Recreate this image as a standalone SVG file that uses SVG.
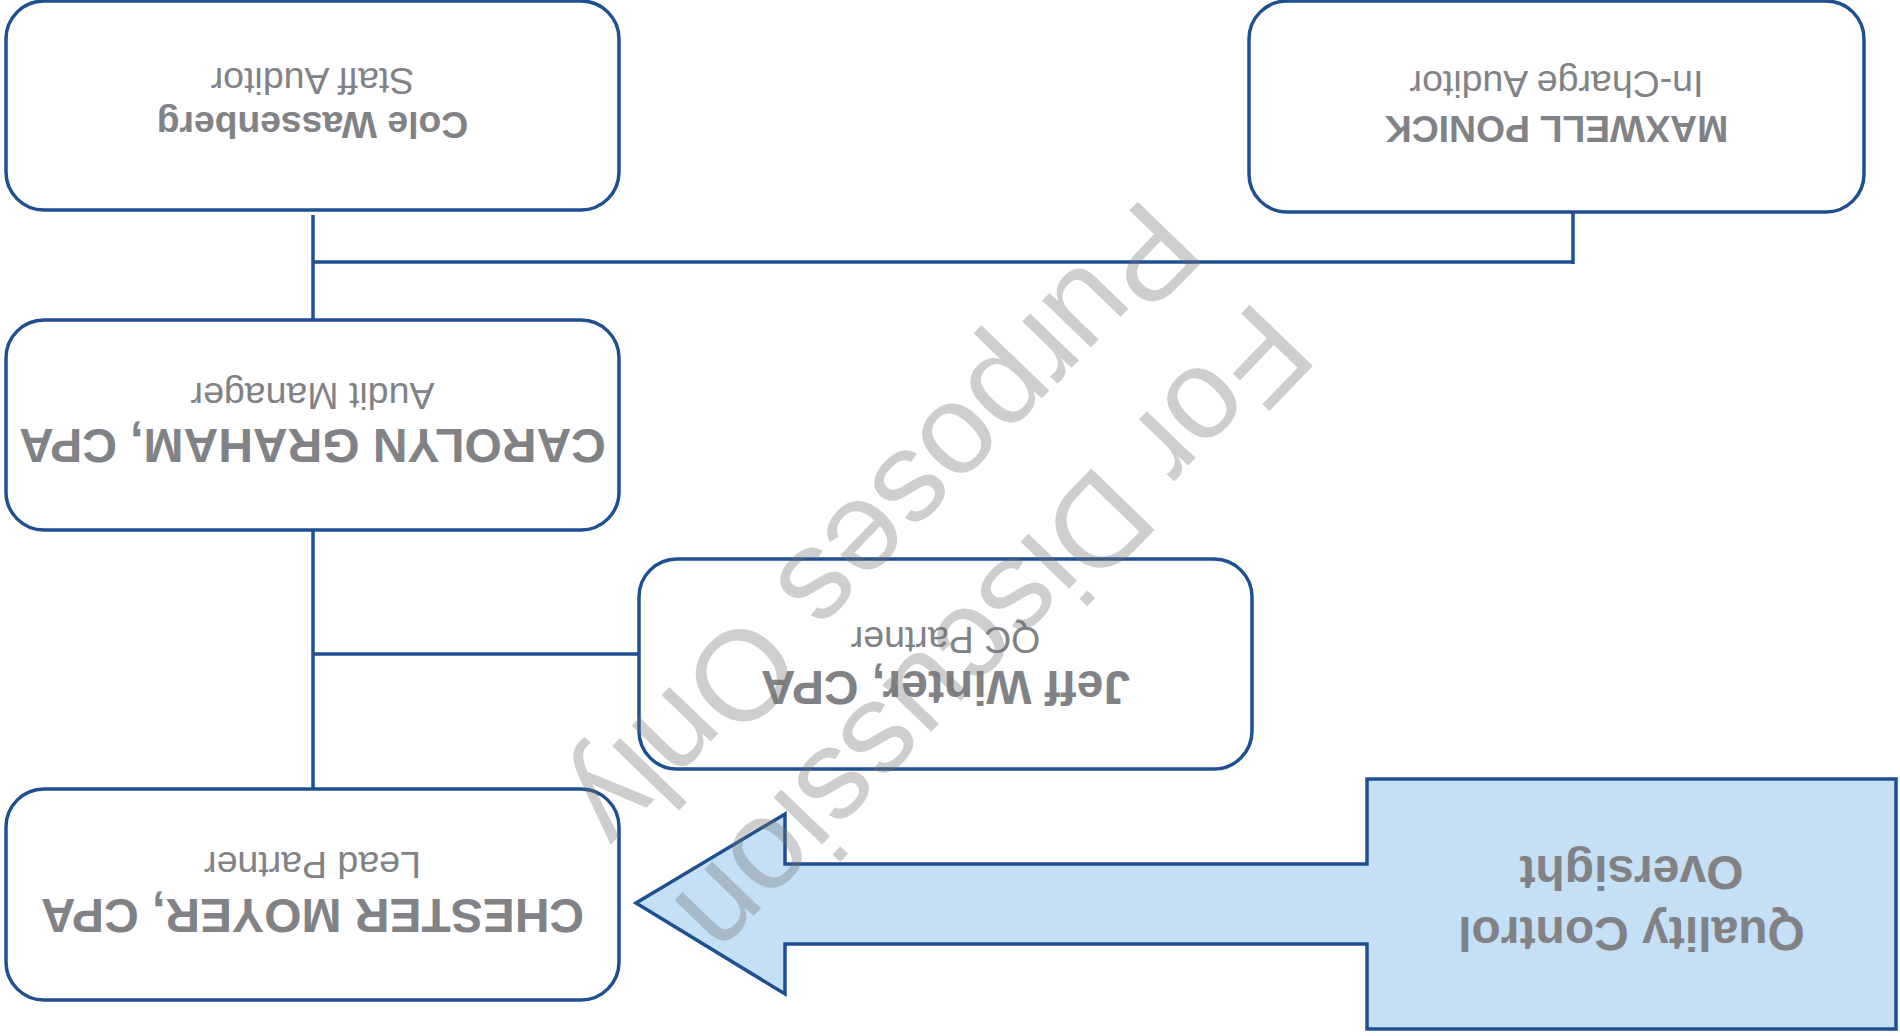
<svg xmlns="http://www.w3.org/2000/svg" width="1900" height="1036" viewBox="0 0 1900 1036">
<style>
.box{fill:#ffffff;stroke:#1e4f90;stroke-width:3.5}
.conn{stroke:#1e4f90;stroke-width:3.5;fill:none}
.name{font-family:"Liberation Sans",Arial,sans-serif;font-weight:bold;fill:#818285;text-anchor:middle}
.title{font-family:"Liberation Sans",Arial,sans-serif;fill:#818285;text-anchor:middle;font-size:37.5px}
.big{font-size:48px}
.small{font-size:37.3px}
.arrow{fill:#c5e0f4;stroke:#1e4f90;stroke-width:3.5;stroke-linejoin:miter}
.wm{font-family:"Liberation Sans",Arial,sans-serif;font-size:128px;fill:#747474;fill-opacity:0.35;text-anchor:middle}
</style>
<rect width="1900" height="1036" fill="#ffffff"/>
<g transform="rotate(180 950 518)">
  <g id="connectors">
    <line class="conn" x1="1587" y1="716" x2="1587" y2="821"/>
    <line class="conn" x1="327" y1="774" x2="1587" y2="774"/>
    <line class="conn" x1="327" y1="772" x2="327" y2="824"/>
    <line class="conn" x1="1587" y1="247" x2="1587" y2="506"/>
    <line class="conn" x1="1261" y1="382" x2="1587" y2="382"/>
  </g>
  <g id="node-chester">
    <rect class="box" x="1281" y="36" width="613" height="211" rx="38"/>
    <text class="name big" x="1587.5" y="137">CHESTER MOYER, CPA</text>
    <text class="title" x="1587.5" y="184">Lead Partner</text>
  </g>
  <g id="node-jeff">
    <rect class="box" x="648" y="267" width="613" height="210" rx="38"/>
    <text class="name big" x="954.5" y="365">Jeff Winter, CPA</text>
    <text class="title" x="954.5" y="409">QC Partner</text>
  </g>
  <g id="node-carolyn">
    <rect class="box" x="1281" y="506" width="613" height="210" rx="38"/>
    <text class="name big" x="1587.5" y="607">CAROLYN GRAHAM, CPA</text>
    <text class="title" x="1587.5" y="653">Audit Manager</text>
  </g>
  <g id="node-cole">
    <rect class="box" x="1281" y="826" width="613" height="209" rx="38"/>
    <text class="name small" x="1587.5" y="924">Cole Wassenberg</text>
    <text class="title" x="1587.5" y="968">Staff Auditor</text>
  </g>
  <g id="node-maxwell">
    <rect class="box" x="36" y="824" width="615" height="211" rx="38"/>
    <text class="name small" x="343.5" y="920">MAXWELL PONICK</text>
    <text class="title" x="343.5" y="965">In-Charge Auditor</text>
  </g>
  <g id="qc-arrow">
    <polygon class="arrow" points="1264,133 1115,42 1115,92 533,92 533,7 4,7 4,257 533,257 533,172 1115,172 1115,222"/>
    <text class="name big" x="268.5" y="119">Quality Control</text>
    <text class="name big" x="268.5" y="180">Oversight</text>
  </g>
  <g id="watermark" transform="translate(992 487) rotate(-46)">
    <text class="wm" x="0" y="-76">For Discussion</text>
    <text class="wm" x="0" y="76">Purposes Only</text>
  </g>
</g>
</svg>
